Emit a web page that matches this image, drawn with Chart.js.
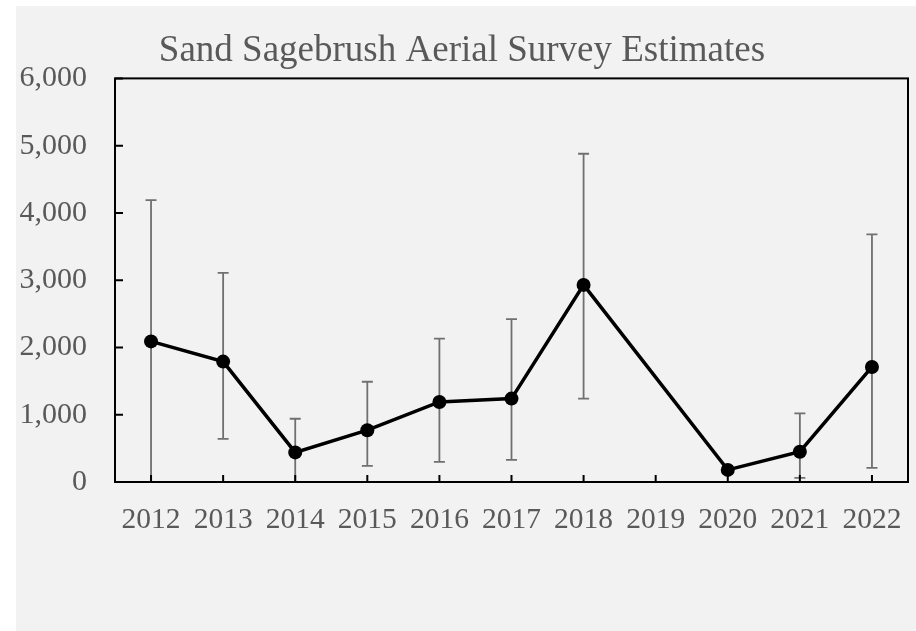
<!DOCTYPE html>
<html>
<head>
<meta charset="utf-8">
<script src="https://cdn.jsdelivr.net/npm/chart.js@4"></script>
<style>
  html, body { margin: 0; padding: 0; background: #fff; }
  #wrap { position: absolute; left: 16px; top: 6px; width: 900px; height: 625px; background: #f2f2f2; }
</style>
</head>
<body>
<div id="wrap"><canvas id="surveyChart"></canvas></div>
<script>
const years = ['2012', '2013', '2014', '2015', '2016', '2017', '2018', '2019', '2020', '2021', '2022'];
const estimates = [2090, 1790, 440, 770, 1190, 1240, 2930, null, 180, 450, 1710];
const upperCI = [4190, 3110, 940, 1490, 2130, 2420, 4880, null, null, 1020, 3680];
const lowerCI = [0, 640, 0, 240, 300, 330, 1240, null, null, 60, 210];
const yTicks = [0, 1000, 2000, 3000, 4000, 5000, 6000];

const serif = "'Liberation Serif', 'Times New Roman', serif";
const labelGrey = '#595959';

// error bars go under the line, box + inside tick marks on top
const errorBars = {
  id: 'errorBars',
  beforeDatasetsDraw(chart) {
    const { ctx, scales: { x, y } } = chart;
    ctx.save();
    ctx.strokeStyle = '#707070';
    ctx.lineWidth = 1.8;
    years.forEach((yr, i) => {
      if (upperCI[i] == null || lowerCI[i] == null) return;
      const px = x.getPixelForValue(i);
      const top = y.getPixelForValue(upperCI[i]);
      const bot = y.getPixelForValue(lowerCI[i]);
      ctx.beginPath();
      ctx.moveTo(px, top); ctx.lineTo(px, bot);
      ctx.moveTo(px - 5.5, top); ctx.lineTo(px + 5.5, top);
      ctx.moveTo(px - 5.5, bot); ctx.lineTo(px + 5.5, bot);
      ctx.stroke();
    });
    ctx.restore();
  }
};

const plotFrame = {
  id: 'plotFrame',
  afterDraw(chart) {
    const { ctx, chartArea: a, scales: { x, y } } = chart;
    ctx.save();
    ctx.strokeStyle = '#000';
    ctx.lineWidth = 2;
    ctx.beginPath();
    years.forEach((yr, i) => {
      const px = x.getPixelForValue(i);
      ctx.moveTo(px, a.bottom); ctx.lineTo(px, a.bottom - 7);
    });
    yTicks.forEach(v => {
      const py = y.getPixelForValue(v);
      ctx.moveTo(a.left, py); ctx.lineTo(a.left + 8, py);
    });
    ctx.stroke();
    ctx.strokeRect(a.left, a.top, a.right - a.left, a.bottom - a.top);
    ctx.restore();
  }
};

const ctx = document.getElementById('surveyChart').getContext('2d');
new Chart(ctx, {
  type: 'line',
  data: {
    labels: years,
    datasets: [{
      label: 'Estimate',
      data: estimates,
      borderColor: '#000',
      backgroundColor: '#000',
      borderWidth: 3.5,
      pointRadius: 7,
      pointBackgroundColor: '#000',
      pointBorderWidth: 0,
      spanGaps: true,
      tension: 0
    }]
  },
  options: {
    responsive: true,
    maintainAspectRatio: false,
    animation: false,
    layout: { padding: { left: 0, right: 8, top: 0, bottom: 0 } },
    plugins: {
      legend: { display: false },
      tooltip: { enabled: false },
      title: {
        display: true,
        text: 'Sand Sagebrush Aerial Survey Estimates',
        color: labelGrey,
        font: { family: serif, size: 37, weight: 'normal' },
        padding: { top: 23, bottom: 5 }
      }
    },
    scales: {
      x: {
        offset: true,
        grid: { display: false },
        border: { display: false },
        ticks: { color: labelGrey, font: { family: serif, size: 29.5 }, padding: 13, maxRotation: 0, autoSkip: false },
        afterFit: s => { s.height = 149; }
      },
      y: {
        min: 0,
        max: 6000,
        grid: { display: false },
        border: { display: false },
        afterBuildTicks: s => { s.ticks = yTicks.map(v => ({ value: v })); },
        ticks: {
          color: labelGrey,
          font: { family: serif, size: 30 },
          padding: 20,
          callback: v => v.toLocaleString('en-US')
        },
        afterFit: s => { s.width = 99; }
      }
    }
  },
  plugins: [errorBars, plotFrame]
});
</script>
</body>
</html>
